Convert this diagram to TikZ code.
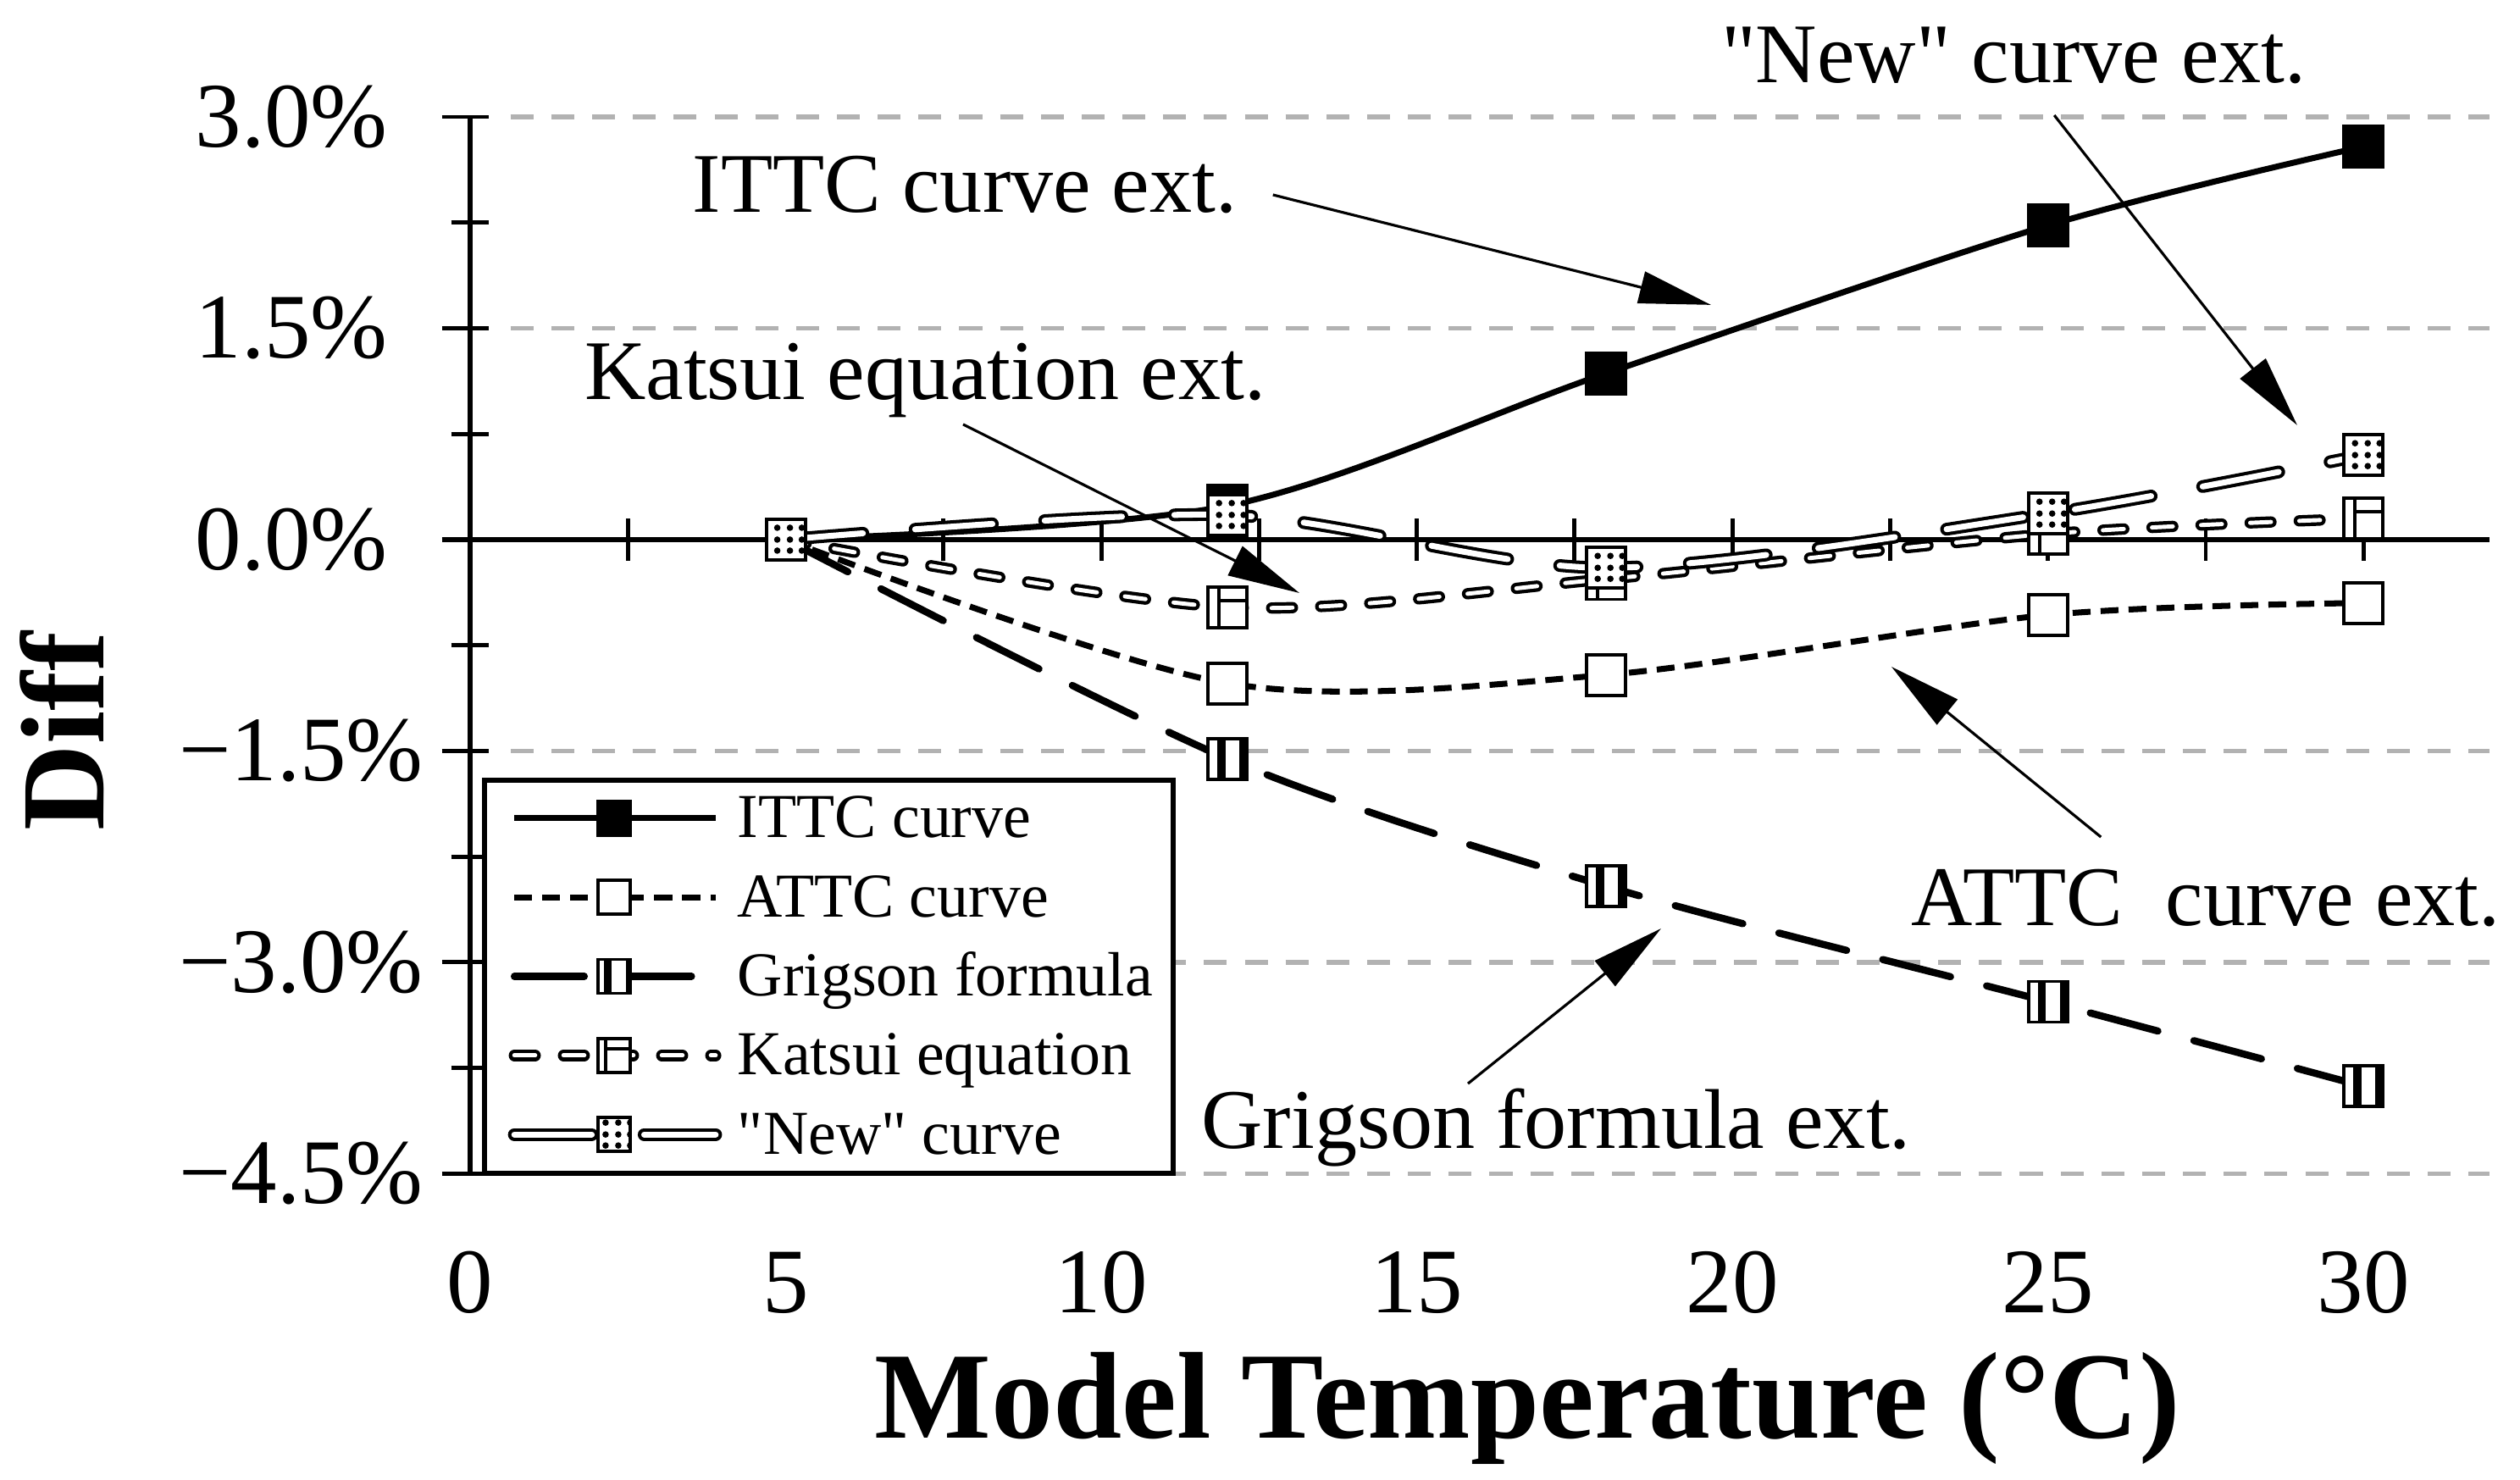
\documentclass[tikz,border=0pt]{standalone}
\usepackage{fontspec}
\setmainfont{Liberation Serif}[Ligatures=TeXOff]
\usetikzlibrary{arrows.meta}
\definecolor{gridgray}{RGB}{178,178,178}

\begin{document}
\begin{tikzpicture}[
 x=0.745cm, y=1.663cm,
 axisln/.style={line width=1.6pt},
 tickln/.style={line width=1.4pt},
 gridln/.style={line width=1.5pt, color=gridgray, dash pattern=on 7.7pt off 6pt},
 ittcln/.style={line width=2pt},
 attcln/.style={line width=2pt, dash pattern=on 6pt off 3.4pt},
 grigln/.style={line width=2.4pt, line cap=round, dash pattern=on 23.5pt off 12.5pt},
 katsln/.style={double, line width=1.2pt, double distance=1.4pt, line cap=round, dash pattern=on 7pt off 9.5pt},
 newln/.style={double, line width=1.15pt, double distance=2pt, line cap=round, dash pattern=on 26pt off 17.6pt},
 mk/.style={draw, line width=1.1pt, fill=white, inner sep=0pt, minimum width=0.46cm, minimum height=0.48cm},
 mkittc/.style={mk, fill=black},
 mkattc/.style={mk},
 mkgrig/.style={mk, path picture={
   \fill[black] ([xshift=-0.12cm]path picture bounding box.north) rectangle ([xshift=-0.025cm]path picture bounding box.south);
   \fill[black] ([xshift=0.14cm]path picture bounding box.north) rectangle (path picture bounding box.south east);}},
 mkkats/.style={mk, path picture={
   \draw[black, line width=1.1pt] ([xshift=-0.1cm]path picture bounding box.north) -- ([xshift=-0.1cm]path picture bounding box.south);
   \draw[black, line width=1.1pt] ([xshift=-0.1cm,yshift=0.08cm]path picture bounding box.center) -- ([yshift=0.08cm]path picture bounding box.east);}},
 mknew/.style={mk, path picture={
   \foreach \dx in {-0.1,0.05,0.19} \foreach \dy in {0.14,0,-0.13}
     \fill[black] ([xshift=\dx cm,yshift=\dy cm]path picture bounding box.center) circle (0.038cm);}},
 ticklab/.style={font=\fontsize{31}{36}\selectfont, inner sep=0pt},
 note/.style={font=\fontsize{28.5}{34}\selectfont, anchor=base, inner sep=0pt},
 legtext/.style={font=\fontsize{21}{25}\selectfont, anchor=base west, inner sep=0pt},
 pointer/.style={line width=0.9pt, -{Triangle[length=0.85cm,width=0.38cm]}}
]
\useasboundingbox (-7.45,-6.669) rectangle (32.48,3.830);

% grid and axes
\foreach \v in {3,1.5,-1.5,-3,-4.5} \draw[gridln] (0.64,\v) -- (32,\v);
\draw[axisln] (0,3) -- (0,-4.5);
\draw[axisln] (-0.45,0) -- (32,0);
\foreach \v in {3,1.5,0,-1.5,-3,-4.5} \draw[tickln] (-0.45,\v) -- (0.3,\v);
\foreach \v in {2.25,0.75,-0.75,-2.25,-3.75} \draw[tickln] (-0.3,\v) -- (0.3,\v);
\foreach \t in {2.5,5,...,30} \draw[tickln] (\t,-0.15) -- (\t,0.15);

\foreach \t in {0,5,...,30} \node[ticklab] (xt-\t) at (\t,-5.274) {\t};
\foreach \v/\lab/\cx [count=\k] in {3/3.0\%/-2.83, 1.5/1.5\%/-2.83, 0/0.0\%/-2.83,
  -1.5/−1.5\%/-2.68, -3/−3.0\%/-2.68, -4.5/−4.5\%/-2.68}
  \node[ticklab] (yt-\k) at (\cx,\v) {\lab};

\node[font=\fontsize{41.5}{48}\selectfont\bfseries, anchor=base, inner sep=0pt] (xlab) at (16.75,-6.374) {Model Temperature (°C)};
\node[font=\fontsize{40}{46}\selectfont\bfseries, rotate=90, anchor=base, inner sep=0pt] (ylab) at (-5.80,-1.359) {Diff};

% data
\draw[ittcln] plot[smooth] coordinates {(5,0) (12,0.24) (18,1.18) (25,2.23) (30,2.79)};
\foreach \t/\d in {5/0,12/0.24,18/1.18,25/2.23,30/2.79} \node[mkittc] (ittc-\t) at (\t,\d) {};
\draw[attcln] plot[smooth] coordinates {(5,0) (12,-1.02) (18,-0.96) (25,-0.535) (30,-0.45)};
\foreach \t/\d in {5/0,12/-1.02,18/-0.96,25/-0.535,30/-0.45} \node[mkattc] (attc-\t) at (\t,\d) {};
\draw[grigln] plot[smooth] coordinates {(5,0) (12,-1.555) (18,-2.46) (25,-3.28) (30,-3.88)};
\foreach \t/\d in {5/0,12/-1.555,18/-2.46,25/-3.28,30/-3.88} \node[mkgrig] (grig-\t) at (\t,\d) {};
\draw[katsln] plot[smooth] coordinates {(5,0) (12,-0.48) (18,-0.28) (25,0.04) (30,0.15)};
\foreach \t/\d in {5/0,12/-0.48,18/-0.28,25/0.04,30/0.15} \node[mkkats] (kats-\t) at (\t,\d) {};
\draw[newln] plot[smooth] coordinates {(5,0) (12,0.175) (18,-0.2) (25,0.185) (30,0.6)};
\foreach \t/\d in {5/0,12/0.175,18/-0.2,25/0.185,30/0.6} \node[mknew] (new-\t) at (\t,\d) {};

% legend
\draw[line width=1.7pt, fill=white] (0.23,-1.708) rectangle (11.14,-4.498);
\foreach \ln/\mk/\lab [count=\i, evaluate=\i as \y using -1.978-(\i-1)*0.561] in
  {ittcln/mkittc/ITTC curve, attcln/mkattc/ATTC curve, grigln/mkgrig/Grigson formula,
   katsln/mkkats/Katsui equation, newln/mknew/"New" curve} {
  \draw[\ln] (0.70,\y) -- (3.89,\y);
  \node[\mk, minimum width=0.38cm, minimum height=0.40cm] (leg-\i) at (2.28,\y) {};
  \node[legtext] (legtext-\i) at (4.23,\y-0.138) {\lab};
}

% annotations
\node[note] (ittc-note) at (7.84,2.324) {ITTC curve ext.};
\node[note] (kats-note) at (7.21,0.992) {Katsui equation ext.};
\node[note] (new-note) at (24.46,3.241) {"New" curve ext.};
\node[note] (attc-note) at (27.50,-2.736) {ATTC\hspace{0.25em} curve ext.};
\node[note] (grig-note) at (17.21,-4.318) {Grigson formula ext.};
\coordinate (ittc-tail) at (12.72,2.447);  \coordinate (ittc-head) at (19.66,1.666);
\coordinate (kats-tail) at (7.81,0.818);   \coordinate (kats-head) at (13.14,-0.379);
\coordinate (new-tail) at (25.10,3.012);   \coordinate (new-head) at (28.95,0.812);
\coordinate (attc-tail) at (25.84,-2.111); \coordinate (attc-head) at (22.52,-0.902);
\coordinate (grig-tail) at (15.81,-3.861); \coordinate (grig-head) at (18.87,-2.760);
\foreach \n in {ittc,kats,new,attc,grig} \draw[pointer] (\n-tail) -- (\n-head);
\end{tikzpicture}
\end{document}
